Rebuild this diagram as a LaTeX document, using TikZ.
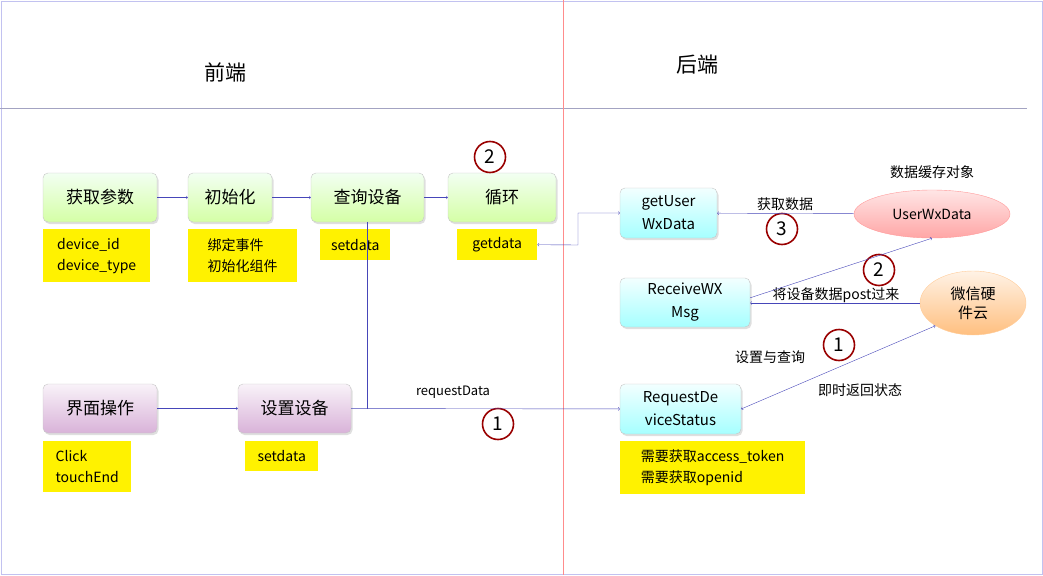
\documentclass[tikz,border=0pt]{standalone}
\usepackage{fontspec}
\setmainfont{Noto Sans CJK SC}
\usetikzlibrary{positioning}
\usetikzlibrary{shadows}
\usetikzlibrary{shapes.geometric}
\tikzstyle{box}=[rounded corners=5pt,draw=gray!45,minimum height=49pt,font=\fontsize{17}{20}\selectfont,align=center,drop shadow={opacity=0.25,shadow xshift=1.5pt,shadow yshift=-2pt}]
\tikzstyle{greenbox}=[box,top color=green!5,bottom color=green!30!lime!35]
\tikzstyle{purplebox}=[box,top color=violet!5,bottom color=violet!30]
\tikzstyle{bluebox}=[box,top color=cyan!5,bottom color=cyan!35,font=\fontsize{15}{23}\selectfont]
\tikzstyle{note}=[fill=yellow,anchor=north west,align=left,font=\fontsize{14}{21}\selectfont,inner sep=6pt]
\tikzstyle{step_no}=[circle,draw=red!60!black,line width=1.6pt,minimum size=31pt,inner sep=0pt,font=\fontsize{19}{20}\selectfont]
\tikzstyle{link}=[draw=blue!45!gray,-to]
\tikzstyle{label}=[font=\fontsize{14}{16}\selectfont]

\begin{document}
\begin{tikzpicture}[x=1pt,y=-1pt]
    \useasboundingbox (0,0) rectangle (1043,575);
    \draw[gray!40!blue!30] (1,1) rectangle (1042,574);
    \draw[blue!20!gray!60] (0,108) -- (1027,108);
    \draw[red!45] (563,0) -- (563,575);
    \node (fe) at (225,72) {\fontsize{21}{24}\selectfont 前端};
    \node (be) at (697,65) {\fontsize{21}{24}\selectfont 后端};

\node (g1) [greenbox,minimum width=114pt] at (100,197.5) {获取参数};
\node (g2) [greenbox,minimum width=84pt] at (230,197.5) {初始化};
\node (g3) [greenbox,minimum width=113pt] at (367.5,197.5) {查询设备};
\node (g4) [greenbox,minimum width=108pt] at (502,197.5) {循环};
\node (n1) [note,minimum width=107pt,minimum height=53pt] at (43,229) {device\_id\\device\_type};
\node (n2) [note,minimum width=109pt,minimum height=53pt] at (188,229) {绑定事件\\初始化组件};
\node (n3) [note,minimum width=70pt,minimum height=31pt] at (320,229) {setdata};
\node (n4) [note,minimum width=80pt,minimum height=31pt,align=center] at (457,229) {getdata};

\node (p1) [purplebox,minimum width=114pt] at (100,408.5) {界面操作};
\node (p2) [purplebox,minimum width=113pt] at (294.5,408.5) {设置设备};
\node (n5) [note,minimum width=88pt,minimum height=51pt] at (43,441) {Click\\touchEnd};
\node (n6) [note,minimum width=73pt,minimum height=30pt] at (245,441) {setdata};

\node (b1) [bluebox,minimum width=97pt,minimum height=50pt] at (668.5,213) {getUser\\WxData};
\node (b2) [bluebox,minimum width=130pt,minimum height=49pt] at (685,302.5) {ReceiveWX\\Msg};
\node (b3) [bluebox,minimum width=121pt,minimum height=50pt] at (680.5,409) {RequestDe\\viceStatus};
\node (n7) [note,minimum width=185pt,minimum height=53pt] at (620,441) {需要获取access\_token\\需要获取openid};

\node (uw) [ellipse,draw=red!40,top color=red!10,bottom color=red!35,minimum width=156pt,minimum height=48pt,font=\fontsize{14}{16}\selectfont] at (932,214) {UserWxData};
\node (wx) [ellipse,draw=orange!40,top color=orange!10,bottom color=orange!50,minimum width=106pt,minimum height=64pt,align=center,font=\fontsize{15}{19}\selectfont] at (973,303) {微信硬\\件云};

\node (c1) [step_no] at (490,157) {2};
\node (c2) [step_no] at (498,424) {1};
\node (c3) [step_no] at (782,229) {3};
\node (c4) [step_no] at (879,270) {2};
\node (c5) [step_no] at (839,345) {1};

\node (l1) [label] at (932,172) {数据缓存对象};
\node (l2) [label] at (785,204) {获取数据};
\node (l3) [label] at (836,295) {将设备数据post过来};
\node (l4) [label] at (770,357) {设置与查询};
\node (l5) [label] at (860,390) {即时返回状态};
\node (l6) [font=\fontsize{13}{15}\selectfont] at (453,392) {requestData};

\draw[link] (g1) -- (g2);
\draw[link] (g2) -- (g3);
\draw[link] (g3) -- (g4);
\draw[link] (p1) -- (p2);
\draw[link] (p2) -- (b3);
\draw[link,-] (g3.south) -- (g3.south |- p2.east);
\draw[link,to-to] (n4.east) -- (578,245) -- (578,213) -- (b1.west);
\draw[link] (uw) -- (b1);
\draw[link] (wx.west) -- (b2.east |- wx.west);
\draw[link] ([yshift=-20pt]b2.north east) -- (uw.south);
\draw[link,to-to] (b3.east) -- (wx.south west);
\end{tikzpicture}
\end{document}
